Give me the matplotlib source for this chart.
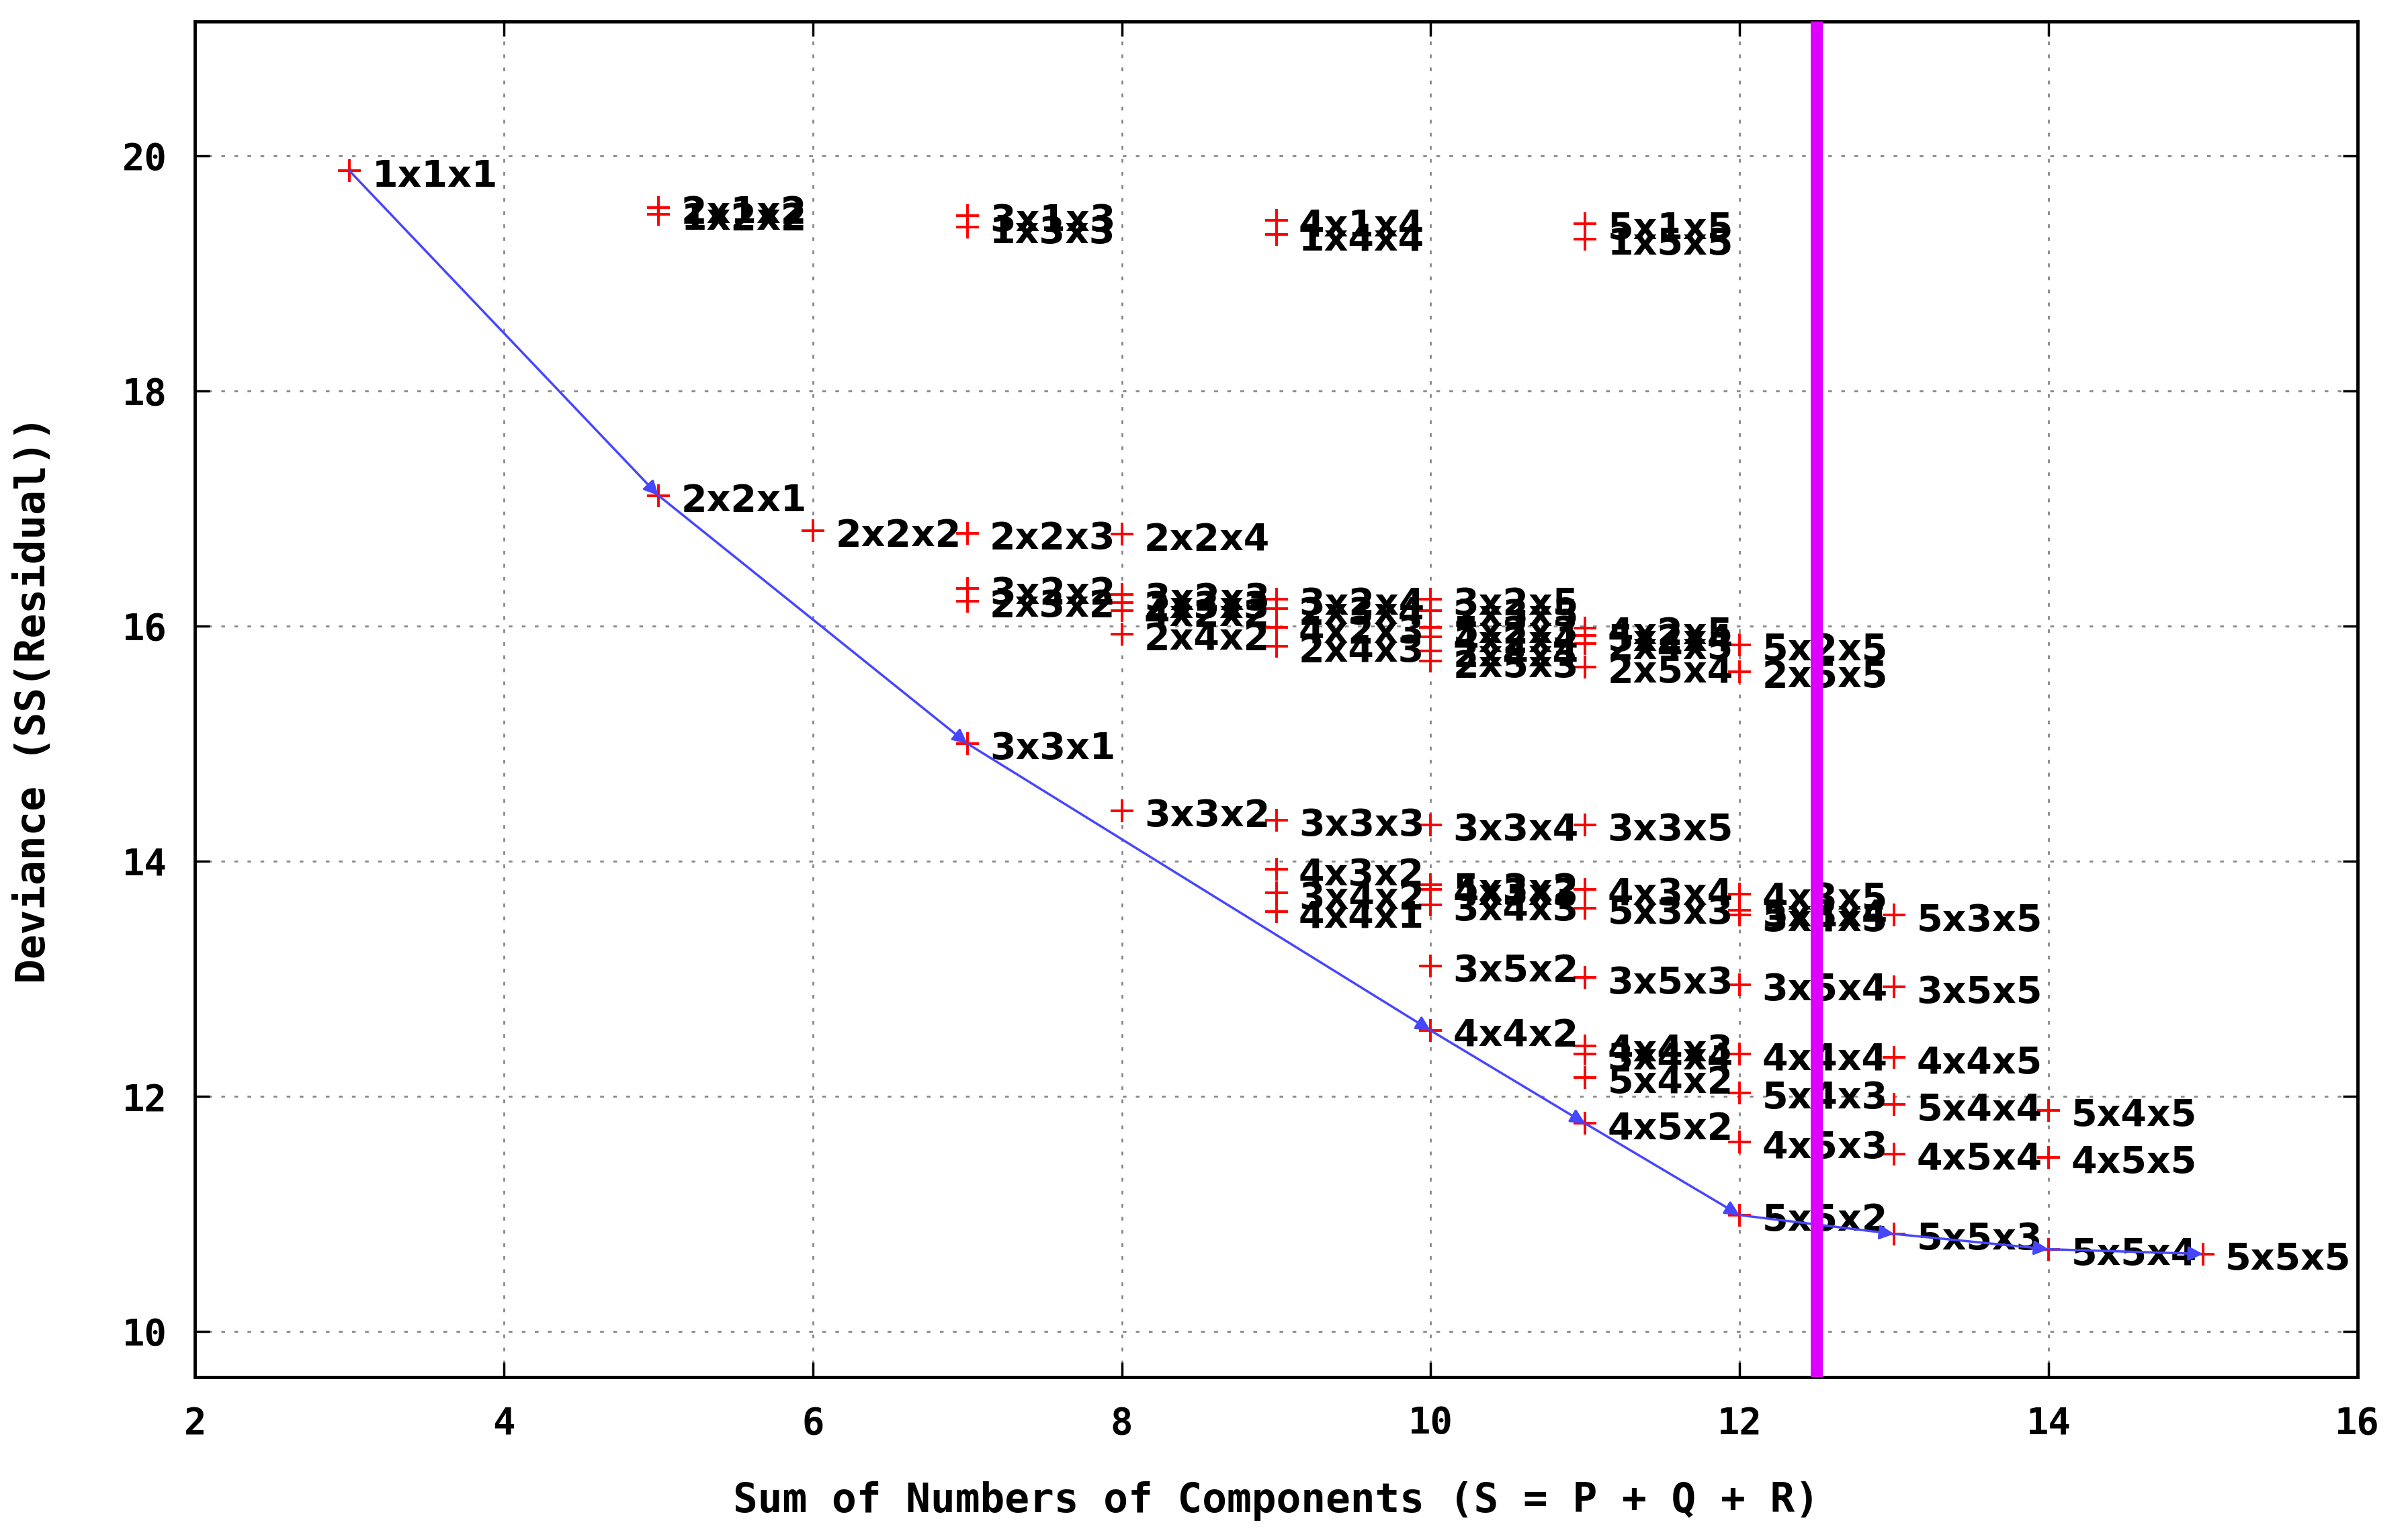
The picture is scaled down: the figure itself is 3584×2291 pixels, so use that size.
import matplotlib
matplotlib.use("Agg")
import matplotlib.pyplot as plt

# model label (PxQxR), sum S = P + Q + R, deviance SS(Residual)
models = [
    "1x1x1",
    "2x1x2", "1x2x2", "2x2x1",
    "2x2x2",
    "3x1x3", "1x3x3", "2x2x3", "3x2x2", "2x3x2", "3x3x1",
    "2x2x4", "3x2x3", "2x3x3", "4x2x2", "2x4x2", "3x3x2",
    "4x1x4", "1x4x4", "3x2x4", "2x3x4", "4x2x3", "2x4x3", "3x3x3", "4x3x2", "3x4x2", "4x4x1",
    "3x2x5", "2x3x5", "5x2x3", "4x2x4", "2x4x4", "2x5x3", "3x3x4", "5x3x2", "4x3x3", "3x4x3", "3x5x2", "4x4x2",
    "5x1x5", "1x5x5", "4x2x5", "5x2x4", "2x4x5", "2x5x4", "3x3x5", "4x3x4", "5x3x3", "3x5x3", "4x4x3", "3x4x4", "5x4x2", "4x5x2",
    "5x2x5", "2x5x5", "4x3x5", "5x3x4", "3x4x5", "3x5x4", "4x4x4", "5x4x3", "4x5x3", "5x5x2",
    "5x3x5", "3x5x5", "4x4x5", "5x4x4", "4x5x4", "5x5x3",
    "5x4x5", "4x5x5", "5x5x4",
    "5x5x5",
]
s_sum = [
    3,
    5, 5, 5,
    6,
    7, 7, 7, 7, 7, 7,
    8, 8, 8, 8, 8, 8,
    9, 9, 9, 9, 9, 9, 9, 9, 9, 9,
    10, 10, 10, 10, 10, 10, 10, 10, 10, 10, 10, 10,
    11, 11, 11, 11, 11, 11, 11, 11, 11, 11, 11, 11, 11, 11,
    12, 12, 12, 12, 12, 12, 12, 12, 12, 12,
    13, 13, 13, 13, 13, 13,
    14, 14, 14,
    15,
]
deviance = [
    19.87,
    19.56, 19.50, 17.11,
    16.81,
    19.49, 19.39, 16.79, 16.32, 16.21, 15.00,
    16.78, 16.27, 16.20, 16.13, 15.93, 14.43,
    19.45, 19.33, 16.23, 16.15, 15.99, 15.83, 14.35, 13.93, 13.73, 13.57,
    16.23, 16.13, 15.99, 15.91, 15.79, 15.70, 14.31, 13.80, 13.76, 13.63, 13.11, 12.56,
    19.42, 19.29, 15.98, 15.92, 15.85, 15.65, 14.31, 13.76, 13.60, 13.01, 12.43, 12.36, 12.16, 11.77,
    15.84, 15.61, 13.72, 13.58, 13.54, 12.95, 12.36, 12.03, 11.61, 10.99,
    13.54, 12.93, 12.33, 11.93, 11.51, 10.83,
    11.88, 11.48, 10.70,
    10.66,
]

# best model at each S, linked by arrows
path = ["1x1x1", "2x2x1", "3x3x1", "4x4x2", "4x5x2", "5x5x2", "5x5x3", "5x5x4", "5x5x5"]
cutoff = 12.5

xticks = [2, 4, 6, 8, 10, 12, 14, 16]
yticks = [10, 12, 14, 16, 18, 20]

fig = plt.figure(figsize=(35.84, 22.91), dpi=100)
ax = fig.add_axes([0.081, 0.105, 0.898, 0.881])

ax.grid(True, color="#888888", linestyle=(0, (2, 5)), linewidth=2)
ax.set_axisbelow(True)

ax.plot(s_sum, deviance, linestyle="none", marker="+", color="red",
        markersize=24, markeredgewidth=2.8, zorder=3)

for name, s, d in zip(models, s_sum, deviance):
    ax.annotate(name, xy=(s, d), xytext=(24, -6), textcoords="offset points",
                ha="left", va="center", fontsize=40, fontweight="bold",
                family="DejaVu Sans", color="black", zorder=4)

pts = {name: (s, d) for name, s, d in zip(models, s_sum, deviance)}
for a, b in zip(path[:-1], path[1:]):
    ax.annotate("", xy=pts[b], xytext=pts[a],
                arrowprops=dict(arrowstyle="-|>", color="#4646ff", lw=2.5,
                                mutation_scale=32, shrinkA=0, shrinkB=0),
                zorder=5)

ax.axvline(cutoff, color="#dd00ff", linewidth=13, zorder=6)

ax.set_xlim(2, 16)
ax.set_ylim(9.61, 21.14)
ax.set_xticks(xticks)
ax.set_yticks(yticks)
ax.tick_params(direction="in", length=16, width=2.5, top=True, right=True,
               labelsize=40, pad=30)
for lab in ax.get_xticklabels() + ax.get_yticklabels():
    lab.set_family("DejaVu Sans Mono")
    lab.set_fontweight("bold")

for sp in ax.spines.values():
    sp.set_linewidth(3.5)

ax.set_xlabel("Sum of Numbers of Components (S = P + Q + R)", fontsize=44,
              fontweight="bold", family="DejaVu Sans Mono", va="center")
ax.set_ylabel("Deviance (SS(Residual))", fontsize=44,
              fontweight="bold", family="DejaVu Sans Mono", va="center")
ax.xaxis.set_label_coords(0.5, -0.091)
ax.yaxis.set_label_coords(-0.0746, 0.5)

fig.savefig("out.png", dpi=100)
